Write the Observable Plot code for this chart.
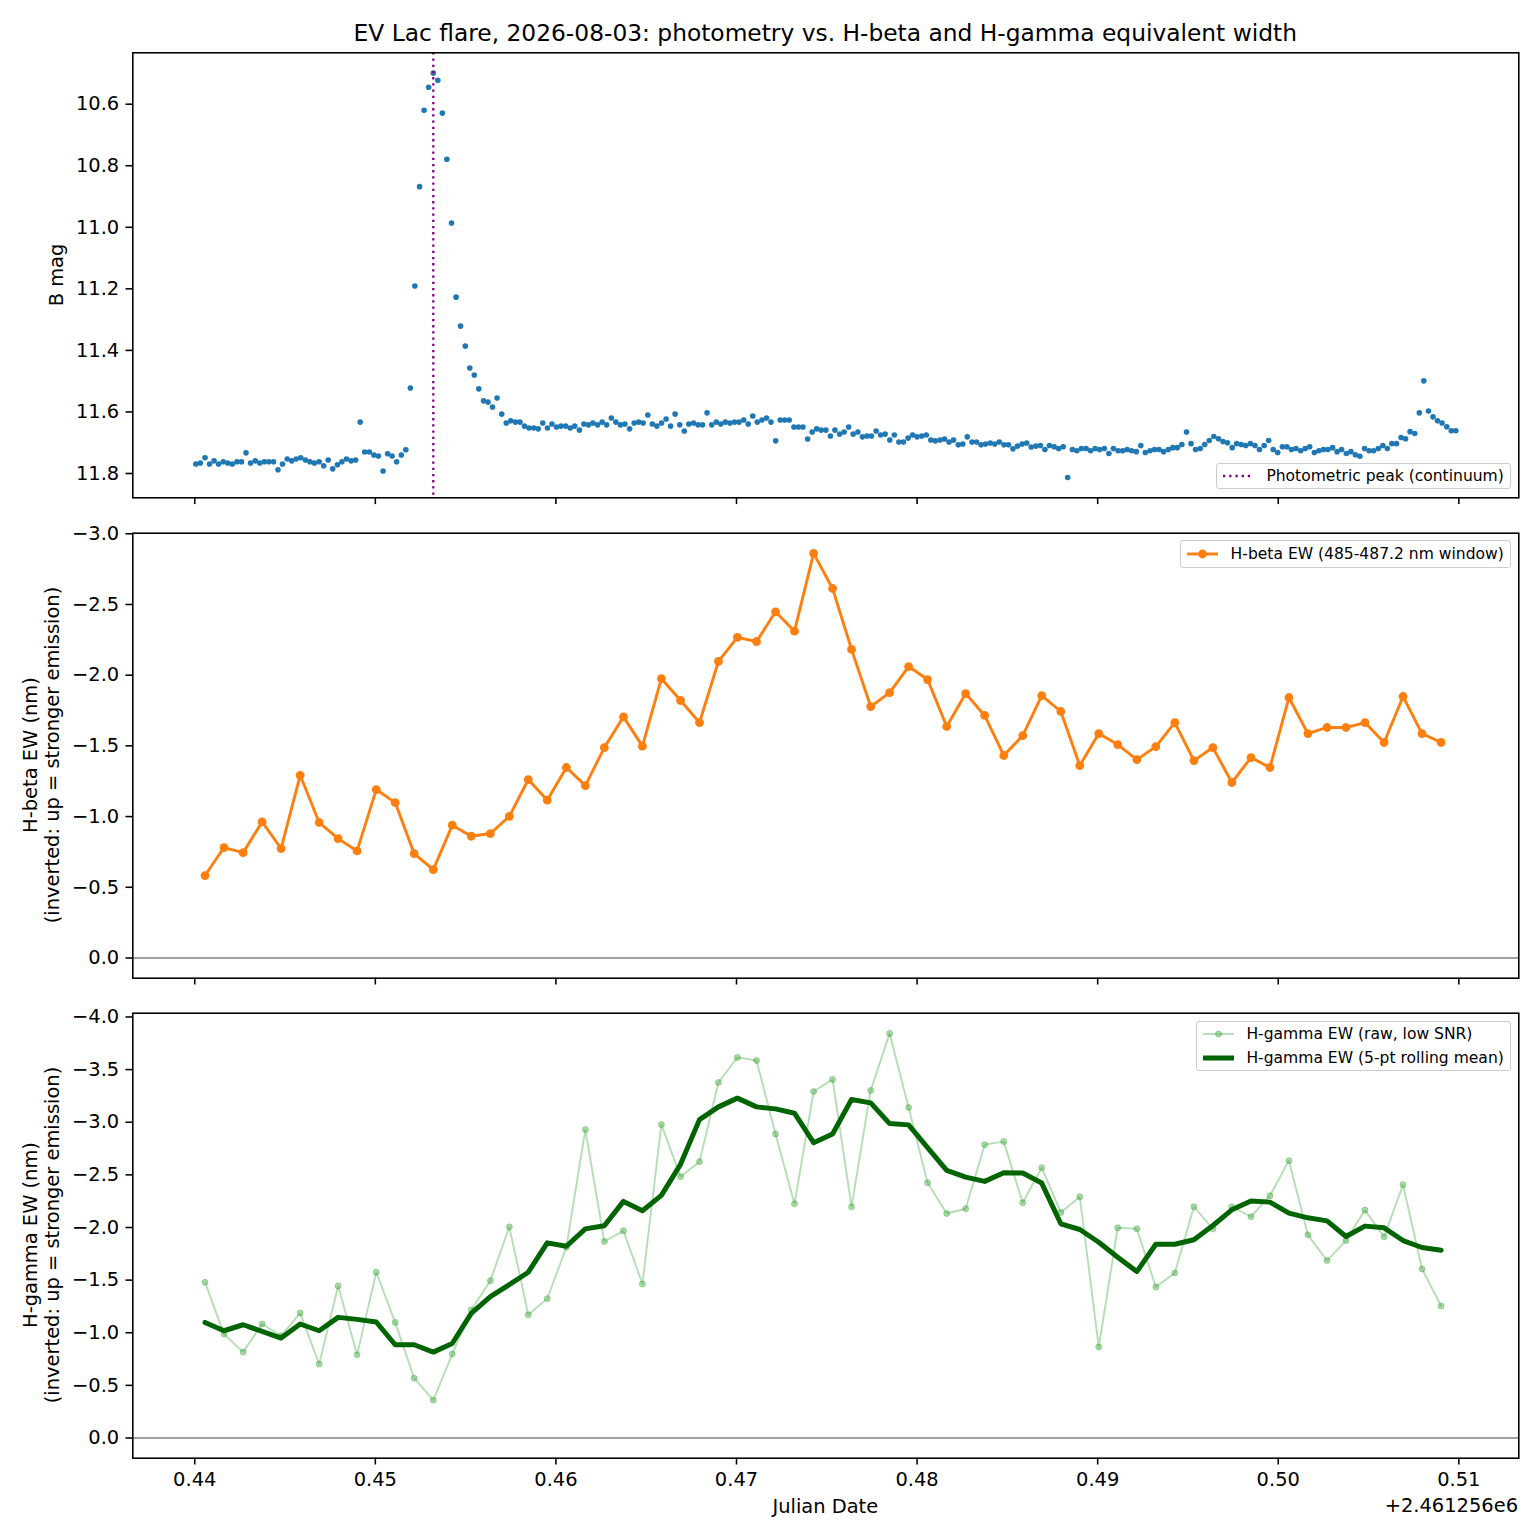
<!DOCTYPE html>
<html>
<head>
<meta charset="utf-8">
<script src="https://cdn.jsdelivr.net/npm/d3@7"></script>
<script src="https://cdn.jsdelivr.net/npm/@observablehq/plot@0.6"></script>
<style>
  body { margin: 0; background: #fff; }
  #fig { position: relative; width: 1540px; height: 1540px; font-family: "DejaVu Sans", sans-serif; color: #000; background: #fff; overflow: hidden; }
  .abs { position: absolute; }
  .txt { position: absolute; white-space: pre; }
  .legend { position: absolute; right: 29px; box-sizing: border-box; padding: 0 6.2px; border: 1px solid #cccccc; border-radius: 3px;
            background: rgba(255,255,255,0.8); display: flex; flex-direction: column; justify-content: center; gap: 4px; font-size: 15.56px; }
  .legend .row { display: flex; align-items: center; height: 20px; white-space: pre; }
  .legend svg { margin-right: 12.4px; flex: none; }
</style>
</head>
<body>
<div id="fig"></div>
<script>
// ---------------- data (JD - 2461256) ----------------
const photTime = [
0.44006,0.44031,0.44057,0.44082,0.44107,0.44132,0.44158,0.44183,0.44208,0.44234,
0.44259,0.44284,0.44309,0.44335,0.44360,0.44385,0.44410,0.44436,0.44461,0.44486,
0.44512,0.44537,0.44562,0.44587,0.44613,0.44638,0.44663,0.44689,0.44714,0.44739,
0.44764,0.44790,0.44815,0.44840,0.44866,0.44891,0.44916,0.44941,0.44967,0.44992,
0.45017,0.45043,0.45068,0.45093,0.45118,0.45144,0.45169,0.45194,0.45219,0.45245,
0.45270,0.45295,0.45321,0.45346,0.45371,0.45396,0.45422,0.45447,0.45472,0.45498,
0.45523,0.45548,0.45573,0.45599,0.45624,0.45649,0.45674,0.45700,0.45725,0.45750,
0.45776,0.45801,0.45826,0.45851,0.45877,0.45902,0.45927,0.45953,0.45978,0.46003,
0.46028,0.46054,0.46079,0.46104,0.46130,0.46155,0.46180,0.46205,0.46231,0.46256,
0.46281,0.46307,0.46332,0.46357,0.46382,0.46408,0.46433,0.46458,0.46483,0.46509,
0.46534,0.46559,0.46585,0.46610,0.46635,0.46660,0.46686,0.46711,0.46736,0.46762,
0.46787,0.46812,0.46837,0.46863,0.46888,0.46913,0.46938,0.46964,0.46989,0.47014,
0.47040,0.47065,0.47090,0.47115,0.47141,0.47166,0.47191,0.47217,0.47242,0.47267,
0.47292,0.47318,0.47343,0.47368,0.47394,0.47419,0.47444,0.47469,0.47495,0.47520,
0.47545,0.47571,0.47596,0.47621,0.47646,0.47672,0.47697,0.47722,0.47747,0.47773,
0.47798,0.47823,0.47849,0.47874,0.47899,0.47924,0.47950,0.47975,0.48000,0.48026,
0.48051,0.48076,0.48101,0.48127,0.48152,0.48177,0.48202,0.48228,0.48253,0.48278,
0.48304,0.48329,0.48354,0.48379,0.48405,0.48430,0.48455,0.48481,0.48506,0.48531,
0.48556,0.48582,0.48607,0.48632,0.48658,0.48683,0.48708,0.48733,0.48759,0.48784,
0.48809,0.48834,0.48860,0.48885,0.48910,0.48936,0.48961,0.48986,0.49011,0.49037,
0.49062,0.49087,0.49113,0.49138,0.49163,0.49188,0.49214,0.49239,0.49264,0.49290,
0.49315,0.49340,0.49365,0.49391,0.49416,0.49441,0.49466,0.49492,0.49517,0.49542,
0.49568,0.49593,0.49618,0.49643,0.49669,0.49694,0.49719,0.49745,0.49770,0.49795,
0.49820,0.49846,0.49871,0.49896,0.49922,0.49947,0.49972,0.49997,0.50023,0.50048,
0.50073,0.50098,0.50124,0.50149,0.50174,0.50200,0.50225,0.50250,0.50275,0.50301,
0.50326,0.50351,0.50377,0.50402,0.50427,0.50452,0.50478,0.50503,0.50528,0.50554,
0.50579,0.50604,0.50629,0.50655,0.50680,0.50705,0.50730,0.50756,0.50781,0.50806,
0.50832,0.50857,0.50882,0.50907,0.50933,0.50958,0.50983
];
const photMag = [
11.769,11.766,11.749,11.769,11.759,11.769,11.762,11.766,11.769,11.762,
11.762,11.733,11.766,11.759,11.766,11.762,11.762,11.762,11.788,11.769,
11.753,11.759,11.753,11.749,11.756,11.762,11.766,11.762,11.775,11.756,
11.785,11.772,11.762,11.753,11.759,11.756,11.633,11.730,11.730,11.740,
11.743,11.792,11.736,11.743,11.762,11.740,11.723,11.522,11.191,10.868,
10.620,10.545,10.499,10.522,10.629,10.779,10.986,11.227,11.321,11.386,
11.457,11.480,11.525,11.564,11.568,11.584,11.555,11.607,11.636,11.629,
11.633,11.633,11.646,11.652,11.652,11.655,11.636,11.652,11.639,11.649,
11.646,11.646,11.652,11.646,11.659,11.639,11.642,11.636,11.642,
11.633,11.642,11.620,11.633,11.642,11.639,11.655,11.636,11.633,11.636,
11.610,11.639,11.646,11.636,11.623,11.646,11.607,11.642,11.662,11.639,
11.636,11.642,11.642,11.603,11.642,11.633,11.639,11.633,11.636,11.633,
11.633,11.626,11.639,11.613,11.633,11.626,11.620,11.633,11.694,11.626,
11.626,11.626,11.649,11.649,11.649,11.688,11.665,11.655,11.659,11.659,
11.678,11.659,11.672,11.665,11.649,11.672,11.665,11.681,11.678,11.678,
11.662,11.675,11.672,11.691,11.675,11.698,11.698,11.685,11.675,11.681,
11.678,11.675,11.691,11.694,11.691,11.688,11.698,11.691,11.707,11.704,
11.681,11.698,11.698,11.707,11.704,11.701,11.704,11.698,11.707,11.707,
11.720,11.711,11.704,11.701,11.714,11.711,
11.709,11.722,11.709,11.713,11.719,11.713,11.813,11.722,11.726,11.719,
11.719,11.726,11.719,11.722,11.719,11.735,11.719,11.726,11.726,11.722,
11.726,11.729,11.709,11.732,11.726,11.722,11.722,11.729,11.722,11.716,
11.716,11.706,11.665,11.703,11.722,11.719,11.706,11.693,11.680,11.687,
11.696,11.700,11.716,11.703,11.706,11.709,11.703,11.709,11.722,11.709,
11.693,11.722,11.732,11.713,11.713,11.722,11.719,11.726,11.719,11.713,
11.732,11.726,11.722,11.722,11.716,11.729,11.722,11.735,11.729,11.739,
11.744,11.719,11.726,11.726,11.719,11.709,11.719,11.703,11.703,11.683,
11.687,11.664,11.670,11.603,11.499,11.597,11.616,11.629,11.636,11.648,
11.661,11.661
];
const specTime = [
0.44057,0.44162,0.44268,0.44373,0.44478,0.44584,0.44689,0.44794,0.44899,0.45005,
0.45110,0.45215,0.45321,0.45426,0.45531,0.45637,0.45742,0.45847,0.45952,0.46058,
0.46163,0.46268,0.46374,0.46479,0.46584,0.46690,0.46795,0.46900,0.47005,0.47111,
0.47216,0.47321,0.47427,0.47532,0.47637,0.47743,0.47848,0.47953,0.48058,0.48164,
0.48269,0.48374,0.48480,0.48585,0.48690,0.48796,0.48901,0.49006,0.49111,0.49217,
0.49322,0.49427,0.49533,0.49638,0.49743,0.49849,0.49954,0.50059,0.50164,0.50270,
0.50375,0.50480,0.50586,0.50691,0.50796,0.50902
];
const hbetaEW = [
-0.583,-0.781,-0.745,-0.962,-0.774,-1.292,-0.958,-0.844,-0.757,-1.191,
-1.099,-0.738,-0.625,-0.939,-0.861,-0.880,-1.002,-1.262,-1.116,-1.347,
-1.219,-1.488,-1.705,-1.498,-1.976,-1.821,-1.665,-2.097,-2.267,-2.238,
-2.448,-2.311,-2.861,-2.613,-2.182,-1.778,-1.877,-2.061,-1.969,-1.637,
-1.870,-1.715,-1.432,-1.573,-1.856,-1.743,-1.361,-1.587,-1.509,-1.403,
-1.495,-1.665,-1.396,-1.488,-1.241,-1.417,-1.347,-1.842,-1.587,-1.630,
-1.630,-1.665,-1.524,-1.849,-1.587,-1.524
];
const hgammaRaw = [
-1.479,-0.987,-0.816,-1.083,-0.971,-1.187,-0.702,-1.444,-0.790,-1.575,
-1.098,-0.568,-0.359,-0.797,-1.216,-1.495,-2.006,-1.171,-1.324,-1.813,
-2.930,-1.867,-1.968,-1.463,-2.978,-2.483,-2.625,-3.378,-3.616,-3.587,
-2.889,-2.225,-3.292,-3.406,-2.197,-3.302,-3.844,-3.140,-2.425,-2.133,
-2.178,-2.787,-2.816,-2.235,-2.568,-2.143,-2.292,-0.865,-1.997,-1.987,
-1.435,-1.568,-2.197,-1.987,-2.197,-2.102,-2.302,-2.635,-1.930,-1.686,
-1.876,-2.165,-1.911,-2.406,-1.606,-1.254
];
const hgammaRoll = [
-1.098,-1.019,-1.076,-1.013,-0.949,-1.083,-1.019,-1.146,-1.127,-1.102,
-0.886,-0.886,-0.816,-0.898,-1.184,-1.343,-1.457,-1.575,-1.854,-1.822,
-1.987,-2.016,-2.248,-2.159,-2.305,-2.600,-3.025,-3.146,-3.229,-3.146,
-3.127,-3.086,-2.806,-2.889,-3.216,-3.184,-2.987,-2.975,-2.759,-2.543,
-2.479,-2.438,-2.521,-2.517,-2.422,-2.035,-1.981,-1.860,-1.717,-1.581,
-1.841,-1.841,-1.883,-2.019,-2.168,-2.251,-2.241,-2.137,-2.092,-2.063,
-1.914,-2.013,-1.997,-1.876,-1.810,-1.784
];
const xTicks = [0.44, 0.45, 0.46, 0.47, 0.48, 0.49, 0.50, 0.51];
const magTicks = [10.6, 10.8, 11.0, 11.2, 11.4, 11.6, 11.8];
const hbTicks = [-3.0, -2.5, -2.0, -1.5, -1.0, -0.5, 0.0];
const hgTicks = [-4.0, -3.5, -3.0, -2.5, -2.0, -1.5, -1.0, -0.5, 0.0];
const jdOffsetLabel = "+2.461256e6";

// ---------------- derived tables ----------------
const phot = photTime.map((t, i) => ({t, mag: photMag[i]}));
const hb = specTime.map((t, i) => ({t, ew: hbetaEW[i]}));
const hgRaw = specTime.map((t, i) => ({t, ew: hgammaRaw[i]}));
const hgRoll = specTime.map((t, i) => ({t, ew: hgammaRoll[i]}));
const peakTime = photTime[d3.minIndex(photMag)];

// ---------------- layout ----------------
const fig = document.getElementById("fig");
const X_DOMAIN = [0.43657, 0.51332];
const fmtY = d3.format(".1f");
const fmtX = d3.format(".2f");
const C_BLUE = "#1f77b4", C_ORANGE = "#ff7f0e", C_GREEN = "#2ca02c", C_DKGREEN = "#006400", C_PURPLE = "#800080";
const DOT_DASH = "2.3,3.9";

function panel({top, height, mt, mb, yDomain, yTicks, xLabels, marks}) {
  const svg = Plot.plot({
    width: 1540, height,
    marginLeft: 132.3, marginRight: 21.7, marginTop: mt, marginBottom: mb,
    style: {fontFamily: "'DejaVu Sans', sans-serif", fontSize: "19.44px", color: "#000", background: "transparent", overflow: "visible"},
    x: {domain: X_DOMAIN, axis: null, label: null},
    y: {domain: yDomain, axis: null, label: null},
    marks: [
      ...marks,
      Plot.frame({stroke: "#000", strokeWidth: 1.56}),
      Plot.axisY(yTicks, {tickFormat: fmtY, tickSize: 6.8, tickPadding: 6.8, strokeWidth: 1.56, fontSize: 19.44, label: null}),
      Plot.axisX(xTicks, {tickFormat: xLabels ? fmtX : () => "", tickSize: 6.8, tickPadding: 6.8, strokeWidth: 1.56, fontSize: 19.44, label: null})
    ]
  });
  const wrap = document.createElement("div");
  wrap.className = "abs";
  wrap.style.left = "0px";
  wrap.style.top = top + "px";
  wrap.appendChild(svg);
  fig.appendChild(wrap);
}

// Panel 1: photometry
panel({
  top: 0, height: 520, mt: 52.3, mb: 22.7,
  yDomain: [11.879, 10.433], yTicks: magTicks, xLabels: false,
  marks: [
    Plot.dot(phot, {x: "t", y: "mag", r: 2.8, fill: C_BLUE}),
    Plot.ruleX([peakTime], {stroke: C_PURPLE, strokeWidth: 2.3, strokeDasharray: DOT_DASH, strokeLinecap: "butt"})
  ]
});

// Panel 2: H-beta
panel({
  top: 520, height: 480, mt: 12.7, mb: 22.3,
  yDomain: [0.143, -3.004], yTicks: hbTicks, xLabels: false,
  marks: [
    Plot.ruleY([0], {stroke: "#a0a0a0", strokeWidth: 1.8}),
    Plot.line(hb, {x: "t", y: "ew", stroke: C_ORANGE, strokeWidth: 2.9}),
    Plot.dot(hb, {x: "t", y: "ew", r: 4.4, fill: C_ORANGE})
  ]
});

// Panel 3: H-gamma
panel({
  top: 1000, height: 540, mt: 12.7, mb: 82.3,
  yDomain: [0.192, -4.036], yTicks: hgTicks, xLabels: true,
  marks: [
    Plot.ruleY([0], {stroke: "#a0a0a0", strokeWidth: 1.8}),
    Plot.line(hgRaw, {x: "t", y: "ew", stroke: C_GREEN, strokeOpacity: 0.35, strokeWidth: 1.9}),
    Plot.dot(hgRaw, {x: "t", y: "ew", r: 3, fill: C_GREEN, fillOpacity: 0.38, stroke: C_GREEN, strokeOpacity: 0.38, strokeWidth: 1}),
    Plot.line(hgRoll, {x: "t", y: "ew", stroke: C_DKGREEN, strokeWidth: 5})
  ]
});

// ---------------- texts ----------------
function text(str, css) {
  const d = document.createElement("div");
  d.className = "txt";
  d.textContent = str;
  Object.assign(d.style, css);
  fig.appendChild(d);
  return d;
}
text("EV Lac flare, 2026-08-03: photometry vs. H-beta and H-gamma equivalent width",
  {left: "825.3px", top: "18.5px", transform: "translateX(-50%)", fontSize: "23.33px", lineHeight: "28px"});
text("Julian Date", {left: "825.3px", top: "1495px", transform: "translateX(-50%)", fontSize: "19.44px", lineHeight: "24px"});
text(jdOffsetLabel, {right: "22px", top: "1493.5px", fontSize: "19.44px", lineHeight: "24px"});

function ylabel(str, cx, cy) {
  text(str, {left: cx + "px", top: cy + "px", transform: "translate(-50%,-50%) rotate(-90deg)",
             fontSize: "19.44px", lineHeight: "22px", textAlign: "center"});
}
ylabel("B mag", 57, 274.8);
ylabel("H-beta EW (nm)\n(inverted: up = stronger emission)", 42, 755.2);
ylabel("H-gamma EW (nm)\n(inverted: up = stronger emission)", 42, 1235.2);

// ---------------- legends ----------------
function handleSvg(kind) {
  const ns = "http://www.w3.org/2000/svg";
  const s = document.createElementNS(ns, "svg");
  s.setAttribute("width", 31); s.setAttribute("height", 20);
  const add = (tag, attrs) => { const e = document.createElementNS(ns, tag); for (const k in attrs) e.setAttribute(k, attrs[k]); s.appendChild(e); };
  if (kind === "peak") add("line", {x1: 0, x2: 31, y1: 10, y2: 10, stroke: C_PURPLE, "stroke-width": 2.3, "stroke-dasharray": DOT_DASH});
  if (kind === "hb") { add("line", {x1: 0, x2: 31, y1: 10, y2: 10, stroke: C_ORANGE, "stroke-width": 2.9}); add("circle", {cx: 15.5, cy: 10, r: 4.4, fill: C_ORANGE}); }
  if (kind === "raw") { add("line", {x1: 0, x2: 31, y1: 10, y2: 10, stroke: C_GREEN, "stroke-opacity": 0.35, "stroke-width": 1.9});
                        add("circle", {cx: 15.5, cy: 10, r: 3, fill: C_GREEN, "fill-opacity": 0.38, stroke: C_GREEN, "stroke-opacity": 0.38}); }
  if (kind === "roll") add("line", {x1: 0, x2: 31, y1: 10, y2: 10, stroke: C_DKGREEN, "stroke-width": 5});
  return s;
}
function legend(top, height, rows) {
  const box = document.createElement("div");
  box.className = "legend";
  box.style.top = top + "px";
  box.style.height = height + "px";
  for (const [kind, label] of rows) {
    const r = document.createElement("div");
    r.className = "row";
    r.appendChild(handleSvg(kind));
    const sp = document.createElement("span");
    sp.textContent = label;
    r.appendChild(sp);
    box.appendChild(r);
  }
  fig.appendChild(box);
}
legend(463, 26, [["peak", "Photometric peak (continuum)"]]);
legend(540, 28, [["hb", "H-beta EW (485-487.2 nm window)"]]);
legend(1021, 50, [["raw", "H-gamma EW (raw, low SNR)"], ["roll", "H-gamma EW (5-pt rolling mean)"]]);
</script>
</body>
</html>
